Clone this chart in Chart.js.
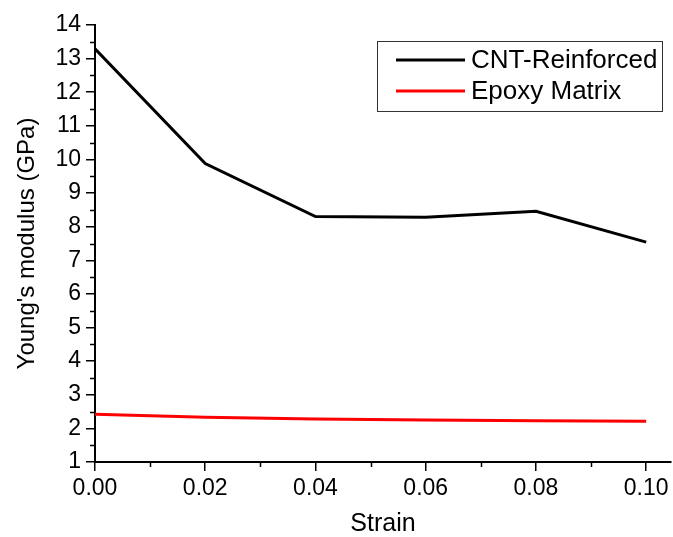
<!DOCTYPE html>
<html>
<head>
<meta charset="utf-8">
<script src="https://cdn.jsdelivr.net/npm/chart.js@4/dist/chart.umd.min.js"></script>
<style>
  html, body { margin: 0; padding: 0; background: #fff; }
  #wrap { width: 673px; height: 537px; position: relative; }
</style>
</head>
<body>
<div id="wrap"><canvas id="chart"></canvas></div>
<script>
// data
const strain = [0.00, 0.02, 0.04, 0.06, 0.08, 0.10];
const cntReinforced = [13.29, 9.88, 8.30, 8.28, 8.46, 7.54];
const epoxyMatrix = [2.42, 2.33, 2.28, 2.25, 2.23, 2.21];
const seriesLabels = ['CNT-Reinforced', 'Epoxy Matrix'];
const seriesColors = ['#000000', '#ff0000'];

const FONT = "'Liberation Sans', Arial, sans-serif";

const toPoints = ys => strain.map((x, i) => ({ x, y: ys[i] }));

// minor ticks between the major ones (Origin style)
const minorTicks = {
    id: 'minorTicks',
    afterDraw(chart) {
        const { ctx, scales: { x, y } } = chart;
        ctx.save();
        ctx.strokeStyle = '#000';
        ctx.lineWidth = 1.5;
        ctx.beginPath();
        for (let v = 0.01; v < 0.1; v += 0.02) {
            const px = Math.round(x.getPixelForValue(v)) + 0.5;
            ctx.moveTo(px, y.bottom);
            ctx.lineTo(px, y.bottom + 5);
        }
        for (let v = 1.5; v < 14; v += 1) {
            const py = Math.round(y.getPixelForValue(v)) + 0.5;
            ctx.moveTo(x.left, py);
            ctx.lineTo(x.left - 5, py);
        }
        ctx.stroke();
        ctx.restore();
    }
};

// boxed legend inside the plot, top right
const boxLegend = {
    id: 'boxLegend',
    afterDraw(chart) {
        const { ctx } = chart;
        const box = { x: 377.5, y: 41.5, w: 285, h: 70 };
        ctx.save();
        ctx.fillStyle = '#fff';
        ctx.fillRect(box.x, box.y, box.w, box.h);
        ctx.strokeStyle = '#333';
        ctx.lineWidth = 1;
        ctx.strokeRect(box.x, box.y, box.w, box.h);
        ctx.font = '26px ' + FONT;
        ctx.textBaseline = 'middle';
        chart.data.datasets.forEach((ds, i) => {
            const ly = 60 + i * 31;
            ctx.strokeStyle = ds.borderColor;
            ctx.lineWidth = 3;
            ctx.beginPath();
            ctx.moveTo(396, ly);
            ctx.lineTo(465, ly);
            ctx.stroke();
            ctx.fillStyle = '#000';
            ctx.fillText(ds.label, 471, ly + 1);
        });
        ctx.restore();
    }
};

new Chart(document.getElementById('chart'), {
    type: 'line',
    data: {
        datasets: [
            { label: seriesLabels[0], data: toPoints(cntReinforced), borderColor: seriesColors[0], borderWidth: 3, pointRadius: 0, tension: 0 },
            { label: seriesLabels[1], data: toPoints(epoxyMatrix), borderColor: seriesColors[1], borderWidth: 3, pointRadius: 0, tension: 0 }
        ]
    },
    options: {
        responsive: true,
        maintainAspectRatio: false,
        animation: false,
        layout: { padding: { top: 25, right: 2, left: 0, bottom: 0 } },
        plugins: { legend: { display: false }, tooltip: { enabled: false } },
        scales: {
            x: {
                type: 'linear',
                min: 0,
                max: 0.1045,
                afterFit: s => { s.height = 75; },
                grid: { drawOnChartArea: false, tickLength: 9, color: '#000', lineWidth: 1.5 },
                border: { color: '#000', width: 2 },
                ticks: {
                    stepSize: 0.02,
                    includeBounds: false,
                    padding: 4,
                    color: '#000',
                    font: { family: FONT, size: 23 },
                    maxRotation: 0,
                    callback: v => v.toFixed(2)
                },
                title: { display: true, text: 'Strain', color: '#000', font: { family: FONT, size: 25, lineHeight: 1 }, padding: 0 }
            },
            y: {
                min: 1,
                max: 14,
                afterFit: s => { s.width = 95; },
                grid: { drawOnChartArea: false, tickLength: 9, color: '#000', lineWidth: 1.5 },
                border: { color: '#000', width: 2 },
                ticks: {
                    stepSize: 1,
                    padding: 5,
                    color: '#000',
                    font: { family: FONT, size: 23 }
                },
                title: { display: true, text: "Young's modulus (GPa)", color: '#000', font: { family: FONT, size: 24, lineHeight: 1.2 }, padding: 13 }
            }
        }
    },
    plugins: [minorTicks, boxLegend]
});
</script>
</body>
</html>
